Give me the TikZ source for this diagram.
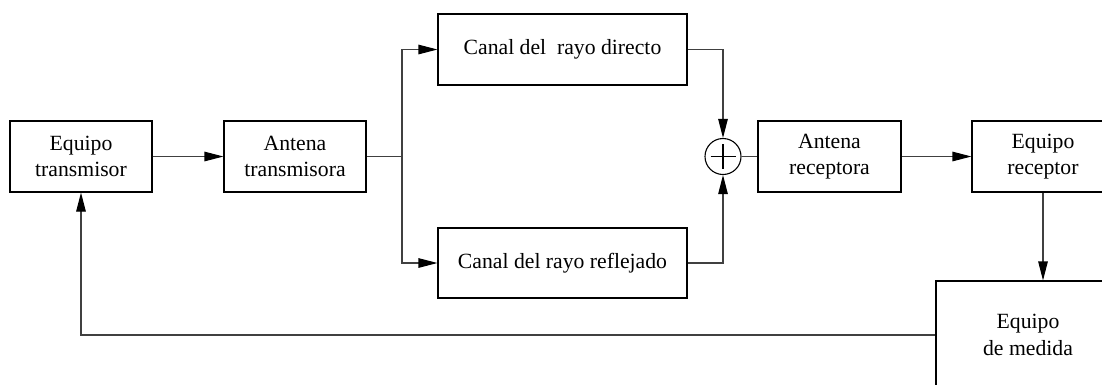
\documentclass[tikz,border=0pt]{standalone}
\usepackage{fontspec}
\setmainfont{Liberation Serif}
\usetikzlibrary{arrows.meta}
\begin{document}
\begin{tikzpicture}[x=1pt,y=-1pt,
  font=\fontsize{21.7}{26.5}\selectfont,
  block/.style={draw=black, line width=1.1pt, rectangle, align=center, inner sep=0pt},
  wire/.style={draw=black!75, line width=1.1pt},
  arr/.style={wire, -{Triangle[length=19pt,width=9.5pt,color=black]}},
  adder/.style={draw=black, line width=1.1pt, circle, minimum size=36pt, inner sep=0pt}]
  \useasboundingbox (0,0) rectangle (1102,384);
  \fill[white] (0,0) rectangle (1102,384);
  \clip (0,0) rectangle (1102,384);

  % blocks
  \node[block, minimum width=142pt, minimum height=71pt] (et) at (81,156.5) {Equipo\\transmisor};
  \node[block, minimum width=142pt, minimum height=71pt] (at) at (295,156.5) {Antena\\transmisora};
  \node[block, minimum width=249pt, minimum height=71pt] (cd) at (562.5,49.5) {Canal del\ \ rayo directo};
  \node[block, minimum width=249pt, minimum height=70pt] (cr) at (562.5,263) {Canal del rayo reflejado};
  \node[adder] (sum) at (723,156.5) {};
  \node[block, minimum width=143pt, minimum height=71pt] (ar) at (829.5,156.5) {Antena\\receptora};
  \node[block, minimum width=142pt, minimum height=71pt] (er) at (1043,156.5) {Equipo\\receptor};
  \node[block, minimum width=184pt, minimum height=108pt] (em) at (1028,335) {Equipo\\de medida};

  % plus sign inside the adder
  \draw[line width=1.4pt] (sum.center) +(-12.5,0) -- +(12.5,0);
  \draw[line width=1.4pt] (sum.center) +(0,-12.5) -- +(0,12.5);

  % split point after the transmitting antenna
  \coordinate (split) at (402,156.5);

  % connectors
  \draw[arr] (et.east) -- (at.west);
  \draw[wire] (at.east) -- (split);
  \draw[arr] (split) |- (cd.west);
  \draw[arr] (split) |- (cr.west);
  \draw[arr] (cd.east) -| (sum.north);
  \draw[arr] (cr.east) -| (sum.south);
  \draw[wire] (sum.east) -- (ar.west);
  \draw[arr] (ar.east) -- (er.west);
  \draw[arr] (er.south) -- (er.south |- em.north);
  \draw[arr] (em.west) -| (et.south);
\end{tikzpicture}
\end{document}
